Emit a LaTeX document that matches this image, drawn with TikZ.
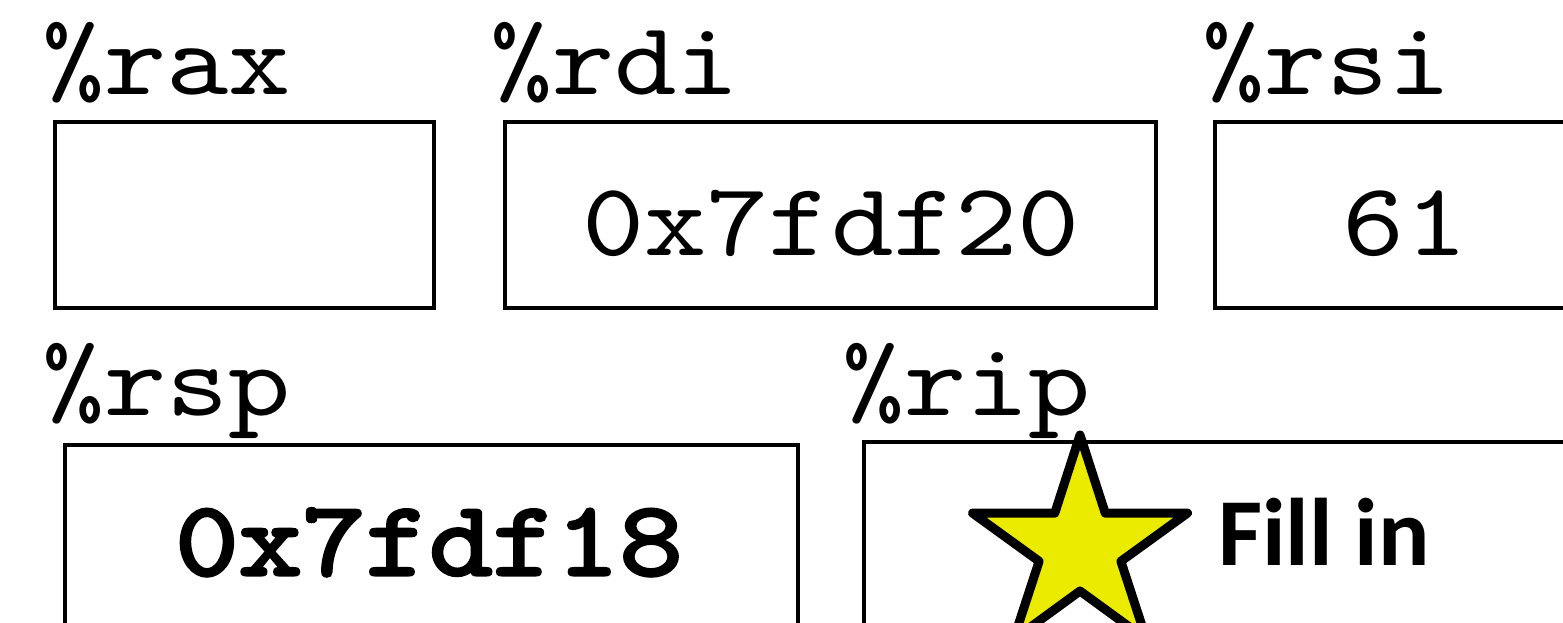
\documentclass[tikz,border=0pt]{standalone}
\usepackage{fontspec}
\newfontfamily\courfont{lmmono10-regular.otf}[FakeStretch=1.14]
\newfontfamily\courbold{lmmono10-regular.otf}[FakeStretch=1.14, FakeBold=3]
\newfontfamily\calfont{Carlito}
\begin{document}
\begin{tikzpicture}[x=1pt,y=1pt,
  regbox/.style={draw=black, line width=4pt, inner sep=0pt, outer sep=0pt, anchor=north west},
  reglabel/.style={inner sep=0pt, anchor=base west, font=\fontsize{104}{120}\selectfont\courfont},
  regval/.style={inner sep=0pt, anchor=base, font=\fontsize{104}{120}\selectfont\courfont},
  starshape/.style={draw=black, line width=9pt, line join=round, fill=starfill}]
\definecolor{starfill}{HTML}{EBEB00}
\useasboundingbox (0,0) rectangle (1563,-623);
\clip (0,0) rectangle (1563,-623);
% top row
\node[reglabel] (raxlab) at (42,-95) {\%rax};
\node[regbox, minimum width=379pt, minimum height=186pt] (raxbox) at (55,-122) {};
\node[reglabel] (rdilab) at (490,-95) {\%rdi};
\node[regbox, minimum width=651pt, minimum height=186pt] (rdibox) at (505,-122) {};
\node[regval] (rdival) at (831,-255) {0x7fdf20};
\node[reglabel] (rsilab) at (1202,-95) {\%rsi};
\node[regbox, minimum width=420pt, minimum height=186pt] (rsibox) at (1215,-122) {};
\node[regval] (rsival) at (1405,-255) {61};
% bottom row
\node[reglabel] (rsplab) at (42,-415) {\%rsp};
\node[regbox, minimum width=733pt, minimum height=260pt] (rspbox) at (65,-445) {};
\node[regval, font=\fontsize{106}{120}\selectfont\courbold] (rspval) at (429,-575) {0x7fdf18};
\node[reglabel] (riplab) at (842,-415) {\%rip};
\node[regbox, minimum width=800pt, minimum height=260pt] (ripbox) at (864,-442) {};
\node[inner sep=0pt, anchor=base west, font=\fontsize{96}{120}\selectfont\calfont\bfseries] (fillin) at (1218,-565) {Fill in};
% star
\begin{scope}[shift={(1080,-548)}]
\draw[starshape] (90:113) -- (126:43) -- (162:113) -- (198:43) -- (234:113) -- (270:43) -- (306:113) -- (342:43) -- (18:113) -- (54:43) -- cycle;
\end{scope}
\end{tikzpicture}
\end{document}
